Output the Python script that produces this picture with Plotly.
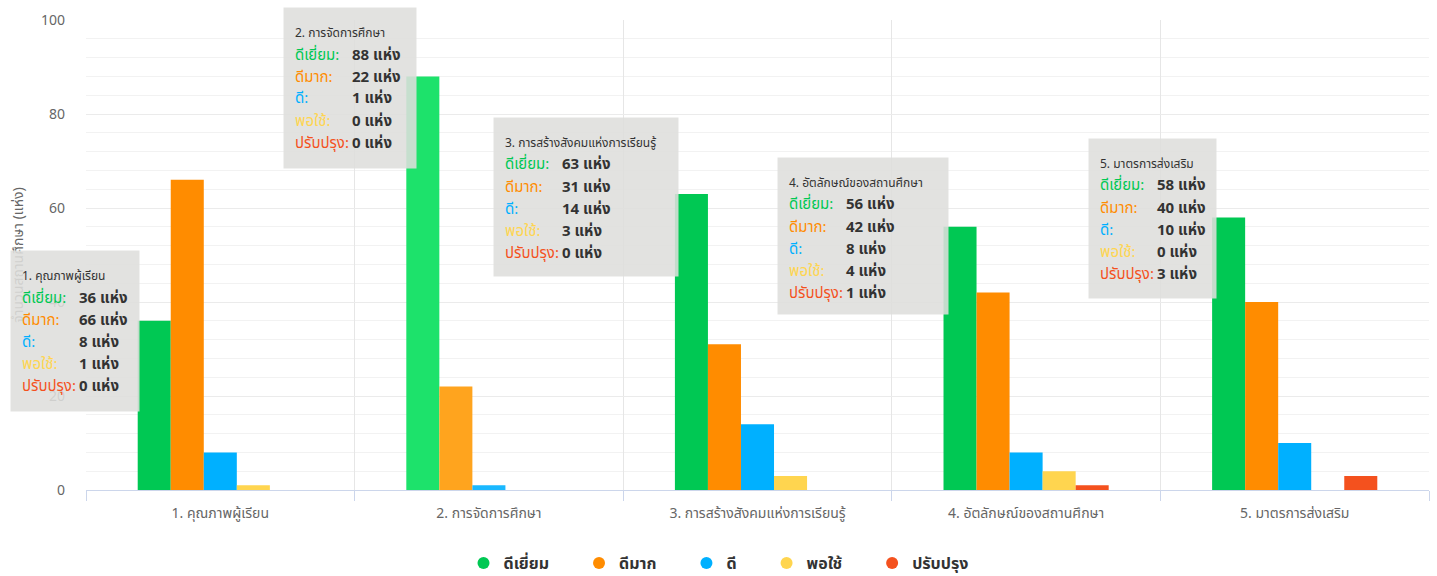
import plotly.graph_objects as go

categories = ["1. คุณภาพผู้เรียน", "2. การจัดการศึกษา", "3. การสร้างสังคมแห่งการเรียนรู้",
              "4. อัตลักษณ์ของสถานศึกษา", "5. มาตรการส่งเสริม"]
series_names = ["ดีเยี่ยม", "ดีมาก", "ดี", "พอใช้", "ปรับปรุง"]
excellent = [36, 88, 63, 56, 58]
very_good = [66, 22, 31, 42, 40]
good = [8, 1, 14, 8, 10]
fair = [1, 0, 3, 4, 0]
improve = [0, 0, 0, 1, 3]
unit = "แห่ง"
y_title = "จำนวนสถานศึกษา (แห่ง)"
y_ticks = [0, 20, 40, 60, 80, 100]

series_values = [excellent, very_good, good, fair, improve]
colors = ["#00C853", "#FF8C00", "#00B0FF", "#FFD54F", "#F4511E"]
hover_colors = ["#1DE26B", "#FFA41E", "#1AB8FF", "#FFDD70", "#F66A40"]
hover_index = 1

FONT = "Noto Sans Thai, Noto Sans, sans-serif"
W, H = 1437, 576
L, R, T, B = 86, 8, 20, 86
PW = W - L - R
PH = H - T - B

def px(x):
    return (x - L) / PW

def py(y):
    return (H - B - y) / PH

fig = go.Figure()
for name, vals, c, hc in zip(series_names, series_values, colors, hover_colors):
    cols = [hc if i == hover_index else c for i in range(len(categories))]
    fig.add_trace(go.Bar(x=categories, y=vals, name=name, marker=dict(color=cols, line=dict(width=0)),
                         showlegend=False))
n_series = len(series_names)
for i, (name, c) in enumerate(zip(series_names, colors)):
    pad = "&nbsp;" * 6 if i < n_series - 1 else ""
    fig.add_trace(go.Scatter(x=[None], y=[None], mode="markers",
                             name="<b>%s</b>%s" % (name, pad),
                             marker=dict(symbol="circle", size=19, color=c)))

# tooltip boxes (pixel positions of the overlays)
boxes = [(10, 250, 128, 160), (283, 7, 132, 160), (493, 117, 184, 158),
         (777, 157, 170, 156), (1088, 138, 127, 159)]
annotations = []
for ci, (bx, by, bw, bh) in enumerate(boxes):
    annotations.append(dict(xref="paper", yref="paper", x=px(bx), y=py(by), xanchor="left", yanchor="top",
                            text=" ", showarrow=False, width=bw, height=bh, bgcolor="rgba(222,222,220,0.88)",
                            borderpad=0))
    annotations.append(dict(xref="paper", yref="paper", x=px(bx + 10), y=py(by + 26), xanchor="left",
                            yanchor="middle", text=categories[ci], showarrow=False,
                            font=dict(size=12, color="#333333", family=FONT)))
    for si, (name, vals, c) in enumerate(zip(series_names, series_values, colors)):
        ry = by + 48 + 22 * si
        annotations.append(dict(xref="paper", yref="paper", x=px(bx + 10), y=py(ry), xanchor="left",
                                yanchor="middle", text=name + ":", showarrow=False,
                                font=dict(size=15, color=c, family=FONT)))
        annotations.append(dict(xref="paper", yref="paper", x=px(bx + 67), y=py(ry), xanchor="left",
                                yanchor="middle", text="<b>%d %s</b>" % (vals[ci], unit), showarrow=False,
                                font=dict(size=15, color="#333333", family=FONT)))

fig.update_layout(
    width=W, height=H,
    margin=dict(l=L, r=R, t=T, b=B),
    paper_bgcolor="white", plot_bgcolor="white",
    barmode="group", bargap=0.385, bargroupgap=0,
    font=dict(family=FONT, color="#666666", size=14),
    xaxis=dict(type="category", tickson="boundaries", showgrid=True, gridcolor="#e6e6e6",
               ticks="outside", ticklen=10, tickcolor="#ccd6eb", showline=True, linecolor="#ccd6eb",
               linewidth=1, tickfont=dict(size=14, color="#666666"), range=[-0.5, 4.5], automargin=False,
               ticklabelstandoff=10),
    yaxis=dict(range=[0, 100], tickvals=y_ticks, showgrid=True, gridcolor="#ebebeb", zeroline=False,
               showline=False, ticklabelstandoff=20, tickfont=dict(size=14, color="#666666"),
               minor=dict(dtick=4, showgrid=True, gridcolor="#f2f2f2"), automargin=False,
               title=dict(text=y_title, standoff=14, font=dict(size=14, color="#666666"))),
    legend=dict(orientation="h", xref="container", yref="container", x=0.5, y=13 / H,
                xanchor="center", yanchor="middle", font=dict(size=16, color="#333333", family=FONT),
                itemsizing="constant"),
    annotations=annotations,
)
fig.write_html("out.html", config={"displayModeBar": False},
               post_script="document.body.style.margin='0';document.body.style.padding='0';")
